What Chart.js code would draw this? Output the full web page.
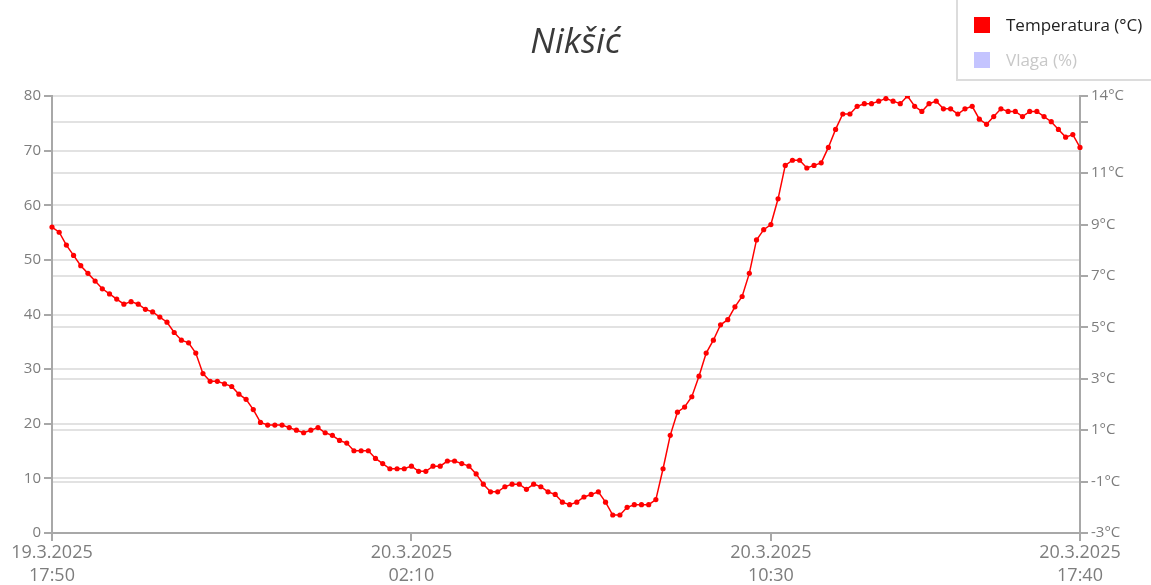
<!DOCTYPE html>
<html lang="sr">
<head>
  <meta charset="UTF-8" />
  <title>Nikšić</title>
  <script src="https://cdn.jsdelivr.net/npm/chart.js"></script>
  <style>
    body {
      margin: 0;
      background: #ffffff;
      font-family: 'Open Sans', sans-serif;
    }

    .wrap {
      position: relative;
      width: 1151px;
      height: 585px;
    }

    /* legend box in the top right corner */
    .legend {
      position: absolute;
      left: 956px;
      top: 0;
      width: 195px;
      height: 81px;
      border-left: 2px solid #dcdcdc;
      border-bottom: 2px solid #dcdcdc;
      box-sizing: border-box;
    }

    .legend-item {
      position: absolute;
      left: 16px;
      display: flex;
      align-items: center;
      gap: 16px;
      font-size: 17px;
      color: #222;
      white-space: nowrap;
    }

    .legend-item .box {
      width: 16px;
      height: 16px;
    }

    .legend-item.off {
      color: #c8c8c8;
    }
  </style>
</head>
<body>
  <div class="wrap">
    <canvas id="chart" width="1151" height="585"></canvas>
    <div class="legend">
      <div class="legend-item" style="top:13px"><span class="box" style="background:#ff0000"></span>Temperatura (°C)</div>
      <div class="legend-item off" style="top:48px"><span class="box" style="background:#c4c4ff"></span>Vlaga (%)</div>
    </div>
  </div>

  <script>
    // readings every 10 minutes, 19.3.2025 17:50 -> 20.3.2025 17:40
    const startTime = new Date(2025, 2, 19, 17, 50);
    const stepMinutes = 10;

    const temperature = [
      8.9, 8.7, 8.2, 7.8, 7.4, 7.1, 6.8, 6.5, 6.3, 6.1,
      5.9, 6.0, 5.9, 5.7, 5.6, 5.4, 5.2, 4.8, 4.5, 4.4,
      4.0, 3.2, 2.9, 2.9, 2.8, 2.7, 2.4, 2.2, 1.8, 1.3,
      1.2, 1.2, 1.2, 1.1, 1.0, 0.9, 1.0, 1.1, 0.9, 0.8,
      0.6, 0.5, 0.2, 0.2, 0.2, -0.1, -0.3, -0.5, -0.5, -0.5,
      -0.4, -0.6, -0.6, -0.4, -0.4, -0.2, -0.2, -0.3, -0.4, -0.7,
      -1.1, -1.4, -1.4, -1.2, -1.1, -1.1, -1.3, -1.1, -1.2, -1.4,
      -1.5, -1.8, -1.9, -1.8, -1.6, -1.5, -1.4, -1.8, -2.3, -2.3,
      -2.0, -1.9, -1.9, -1.9, -1.7, -0.5, 0.8, 1.7, 1.9, 2.3,
      3.1, 4.0, 4.5, 5.1, 5.3, 5.8, 6.2, 7.1, 8.4, 8.8,
      9.0, 10.0, 11.3, 11.5, 11.5, 11.2, 11.3, 11.4, 12.0, 12.7,
      13.3, 13.3, 13.6, 13.7, 13.7, 13.8, 13.9, 13.8, 13.7, 14.0,
      13.6, 13.4, 13.7, 13.8, 13.5, 13.5, 13.3, 13.5, 13.6, 13.1,
      12.9, 13.2, 13.5, 13.4, 13.4, 13.2, 13.4, 13.4, 13.2, 13.0,
      12.7, 12.4, 12.5, 12.0
    ];

    // humidity series is switched off in the legend, nothing is drawn for it
    const humidity = [];

    const xTickIndex = [0, 50, 100, 143];
    const tempTicks = [-3, -1, 1, 3, 5, 7, 9, 11, 13, 14];
    const hiddenTempTicks = [13];

    function pad(n) { return n < 10 ? '0' + n : '' + n; }

    const labels = temperature.map((_, i) => {
      const d = new Date(startTime.getTime() + i * stepMinutes * 60000);
      return d.getDate() + '.' + (d.getMonth() + 1) + '.' + d.getFullYear() +
        ' ' + pad(d.getHours()) + ':' + pad(d.getMinutes());
    });

    const axisGray = '#a8a8a8';
    const gridGray = '#e2e2e2';
    const tickText = '#7d7d7d';

    new Chart(document.getElementById('chart'), {
      type: 'line',
      data: {
        labels: labels,
        datasets: [
          {
            label: 'Temperatura (°C)',
            data: temperature,
            yAxisID: 'yTemp',
            borderColor: '#ff0000',
            backgroundColor: '#ff0000',
            borderWidth: 1.5,
            pointRadius: 2.6,
            pointBorderWidth: 0,
            tension: 0
          },
          {
            label: 'Vlaga (%)',
            data: humidity,
            yAxisID: 'y',
            borderColor: '#c4c4ff',
            backgroundColor: '#c4c4ff',
            hidden: true
          }
        ]
      },
      options: {
        responsive: false,
        animation: false,
        layout: { padding: 0 },
        plugins: {
          legend: { display: false },
          tooltip: { enabled: false },
          title: {
            display: true,
            text: 'Nikšić',
            color: '#3a3a3a',
            font: { family: 'Open Sans', size: 35, style: 'italic', weight: 'normal' },
            padding: { top: 22, bottom: 32 }
          }
        },
        scales: {
          x: {
            type: 'category',
            afterBuildTicks: (scale) => {
              scale.ticks = xTickIndex.map(v => ({ value: v }));
            },
            afterFit: (scale) => { scale.height = 52; },
            grid: {
              drawOnChartArea: false,
              tickColor: axisGray,
              tickLength: 8,
              lineWidth: 2
            },
            border: { color: axisGray, width: 2 },
            ticks: {
              autoSkip: false,
              maxRotation: 0,
              padding: 0,
              color: tickText,
              font: { family: 'Open Sans', size: 18, lineHeight: 1.3 },
              callback: function (value) {
                return labels[value].split(' ');
              }
            }
          },
          y: {
            position: 'left',
            min: 0,
            max: 80,
            afterFit: (scale) => { scale.width = 52; },
            grid: {
              color: gridGray,
              lineWidth: 2,
              tickColor: axisGray,
              tickLength: 8
            },
            border: { color: axisGray, width: 2 },
            ticks: {
              stepSize: 10,
              padding: 3,
              color: tickText,
              font: { family: 'Open Sans', size: 15 }
            }
          },
          yTemp: {
            position: 'right',
            min: -3,
            max: 14,
            afterBuildTicks: (scale) => {
              scale.ticks = tempTicks.map(v => ({ value: v }));
            },
            afterFit: (scale) => { scale.width = 71; },
            grid: {
              color: gridGray,
              lineWidth: 2,
              tickColor: axisGray,
              tickLength: 8
            },
            border: { color: axisGray, width: 2 },
            ticks: {
              padding: 3,
              color: tickText,
              font: { family: 'Open Sans', size: 15 },
              callback: (value) => hiddenTempTicks.includes(value) ? '' : value + '°C'
            }
          }
        }
      }
    });
  </script>
</body>
</html>
